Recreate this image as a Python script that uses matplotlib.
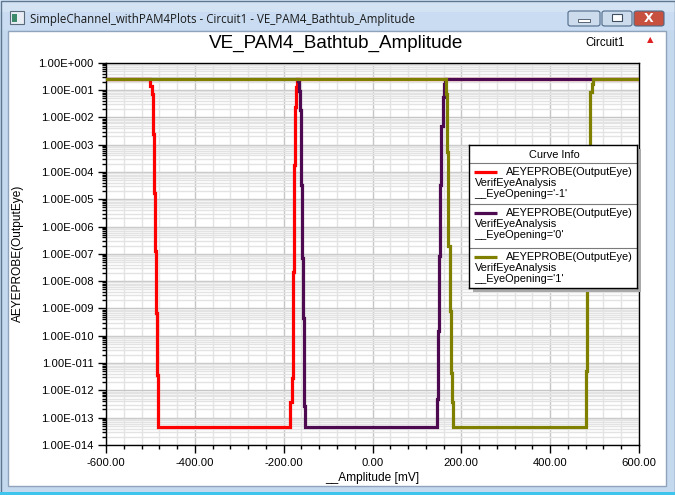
import numpy as np
import matplotlib
matplotlib.use('Agg')
import matplotlib.pyplot as plt
from matplotlib.patches import Rectangle, FancyBboxPatch
from matplotlib.lines import Line2D
from matplotlib.ticker import MultipleLocator, LogLocator, FuncFormatter, NullFormatter

W, H = 675, 495

# ---------------- data ----------------
TOP_EXP = -0.6          # log10 of upper level (~0.25)
FLOOR_EXP = -13.33      # log10 of floor (~5e-14)
X_MIN, X_MAX = -600.0, 600.0

red_fall_x = [-500.3, -497.2, -494.2, -492.0, -489.8, -487.5, -485.3, -483.0]
red_fall_exp = [-0.6, -0.84, -1.14, -2.62, -4.77, -6.91, -9.17, -11.43, -13.33]
red_rise_x = [-186.0, -181.0, -179.0, -176.7, -174.5, -172.2, -170.0]
red_rise_exp = [-13.33, -12.44, -11.55, -7.68, -3.75, -1.61, -0.90, -0.6]

purple_fall_x = [-167.0, -165.0, -162.7, -160.5, -158.2, -156.0, -153.7, -151.5]
purple_fall_exp = [-0.6, -0.66, -1.02, -1.73, -4.47, -7.15, -9.35, -12.56, -13.33]
purple_rise_x = [144.5, 146.7, 149.6, 152.6, 154.9, 158.0, 161.0, 163.8]
purple_rise_exp = [-13.33, -12.32, -9.82, -7.09, -4.47, -2.33, -1.25, -0.78, -0.6]

olive_fall_x = [165.4, 168.4, 170.6, 173.7, 176.0, 178.2, 181.0]
olive_fall_exp = [-0.6, -1.14, -3.28, -6.73, -9.11, -11.37, -12.44, -13.33]
olive_rise_x = [481.4, 484.0, 486.5, 489.0, 493.5, 496.0]
olive_rise_exp = [-13.33, -11.3, -8.2, -4.0, -1.07, -0.78, -0.6]

legend_names = ["'-1'", "'0'", "'1'"]
colors = ['#ff0000', '#4d0a50', '#808000']


def bathtub(fall_x, fall_exp, rise_x, rise_exp):
    xs = [X_MIN]
    es = [TOP_EXP]
    for k, x in enumerate(fall_x):
        xs += [x, x]
        es += [fall_exp[k], fall_exp[k + 1]]
    for k, x in enumerate(rise_x):
        xs += [x, x]
        es += [rise_exp[k], rise_exp[k + 1]]
    xs.append(X_MAX)
    es.append(TOP_EXP)
    return np.array(xs), 10.0 ** np.array(es)


curves = [
    bathtub(red_fall_x, red_fall_exp, red_rise_x, red_rise_exp),
    bathtub(purple_fall_x, purple_fall_exp, purple_rise_x, purple_rise_exp),
    bathtub(olive_fall_x, olive_fall_exp, olive_rise_x, olive_rise_exp),
]

# ---------------- figure / window chrome ----------------
plt.rcParams['font.family'] = ['Liberation Sans', 'DejaVu Sans']
fig = plt.figure(figsize=(W / 100, H / 100), dpi=100)
fig.patch.set_facecolor('#c4d8ee')


def prect(x, y, w, h, zorder=-10, **kw):
    r = Rectangle((x / W, 1 - (y + h) / H), w / W, h / H,
                  transform=fig.transFigure, zorder=zorder, **kw)
    fig.patches.append(r)
    return r


# title bar
prect(0, 0, W, 30, facecolor='#c9dcf1', edgecolor='none')
prect(0, 0, W, 12, facecolor='#d3e3f4', edgecolor='none')
prect(0.5, 0.5, W - 1, H - 1, facecolor='none', edgecolor='#5f7891', lw=1)
prect(0, H - 3, W, 3, facecolor='#3fc4ee', edgecolor='none')
# white client area
prect(8, 31, 658, 455, facecolor='white', edgecolor='#8fa4bb', lw=1)

# app icon
prect(10, 11, 14, 13, facecolor='#e8eef4', edgecolor='#5a6a7a', lw=0.8)
prect(12, 14, 5, 8, facecolor='#3c8a6a', edgecolor='none')
fig.text(30 / W, 1 - 19 / H,
         'SimpleChannel_withPAM4Plots - Circuit1 - VE_PAM4_Bathtub_Amplitude',
         fontsize=8.3, family=['Open Sans', 'DejaVu Sans'], color='#1a1a1a',
         va='center', ha='left')

# caption buttons
for (bx, bw, fc) in [(568, 32, '#cddcec'), (602, 30, '#cddcec'), (634, 30, '#c8503f')]:
    fig.patches.append(FancyBboxPatch((bx / W, 1 - 26 / H), bw / W, 15 / H,
                                      boxstyle='round,pad=0,rounding_size=0.004',
                                      transform=fig.transFigure, zorder=-5,
                                      facecolor=fc, edgecolor='#4e6a88', lw=0.8))
prect(578, 19, 12, 3, zorder=-4, facecolor='white', edgecolor='#404f60', lw=0.6)
prect(612, 14, 10, 7, zorder=-4, facecolor='white', edgecolor='#404f60', lw=0.8)
fig.text(649 / W, 1 - 18.5 / H, 'X', fontsize=9, fontweight='bold', color='white',
         ha='center', va='center', family=['DejaVu Sans'])

# chart title + circuit label
fig.text(336 / W, 1 - 43 / H, 'VE_PAM4_Bathtub_Amplitude', fontsize=13.6,
         ha='center', va='center', color='black')
fig.text(605 / W, 1 - 42.5 / H, 'Circuit1', fontsize=8.3, ha='center',
         va='center', color='black')
fig.text(650 / W, 1 - 40 / H, '▲', fontsize=6, ha='center', va='center',
         color='#e02020', family=['DejaVu Sans'])

# ---------------- main axes ----------------
ax = fig.add_axes([106 / W, 1 - 445 / H, 533 / W, 382.3 / H])
ax.set_facecolor('white')
ax.set_yscale('log')
ax.set_xlim(X_MIN, X_MAX)
ax.set_ylim(1e-14, 1.0)

for (xs, ys), c, z in zip(curves, colors, [3, 4, 5]):
    ax.plot(xs, ys, color=c, lw=2.3, solid_joinstyle='miter', zorder=z)

ax.xaxis.set_major_locator(MultipleLocator(200))
ax.xaxis.set_minor_locator(MultipleLocator(40))
ax.xaxis.set_major_formatter(FuncFormatter(lambda v, p: f"{v:.2f}" if abs(v) > 1e-9 else "0.00"))
ax.yaxis.set_major_locator(LogLocator(base=10, numticks=30))
ax.yaxis.set_minor_locator(LogLocator(base=10, subs=np.arange(2, 10), numticks=30))
ax.yaxis.set_minor_formatter(NullFormatter())


def yfmt(v, p):
    e = int(round(np.log10(v)))
    return f"1.00E{e:+04d}"


ax.yaxis.set_major_formatter(FuncFormatter(yfmt))

ax.grid(which='minor', color='#e3e3e3', lw=1.0, zorder=0)
ax.grid(which='major', color='#c6c6c6', lw=1.0, zorder=0)
ax.set_axisbelow(True)

ax.tick_params(which='major', direction='out', length=6, width=1, labelsize=8.1,
               pad=3, color='black')
ax.tick_params(which='minor', direction='out', length=3.2, width=1, color='black')
for s in ax.spines.values():
    s.set_color('black')
    s.set_linewidth(1.0)

ax.set_xlabel('__Amplitude [mV]', fontsize=8.6, labelpad=3)
fig.text(18 / W, 1 - 253 / H, 'AEYEPROBE(OutputEye)', fontsize=8.6, rotation=90,
         ha='center', va='center')

# ---------------- legend ("Curve Info") ----------------
prect(473, 149, 168, 143, zorder=9, facecolor='#a9a9a9', edgecolor='none')
lax = fig.add_axes([469 / W, 1 - 288 / H, 168 / W, 143 / H], zorder=10)
lax.set_xlim(0, 168)
lax.set_ylim(143, 0)
lax.set_xticks([])
lax.set_yticks([])
lax.set_facecolor('white')
for s in lax.spines.values():
    s.set_color('black')
    s.set_linewidth(1.0)

fs = 7.9
lax.text(85, 9.5, 'Curve Info', fontsize=fs, ha='center', va='center')
for ysep in [18.3, 59.3, 103.3]:
    lax.plot([0, 168], [ysep, ysep], color='#7a7a7a', lw=0.8)
entry_y = [27.3, 68.3, 112.3]
for name, c, y0 in zip(legend_names, colors, entry_y):
    lax.plot([5, 28.3], [y0, y0], color=c, lw=2.3, solid_capstyle='butt')
    lax.text(36.5, y0, 'AEYEPROBE(OutputEye)', fontsize=fs, ha='left', va='center')
    lax.text(5.5, y0 + 11, 'VerifEyeAnalysis', fontsize=fs, ha='left', va='center')
    lax.text(5.5, y0 + 21.3, '__EyeOpening=' + name, fontsize=fs, ha='left', va='center')

fig.savefig('out.png', dpi=100, facecolor=fig.get_facecolor())
